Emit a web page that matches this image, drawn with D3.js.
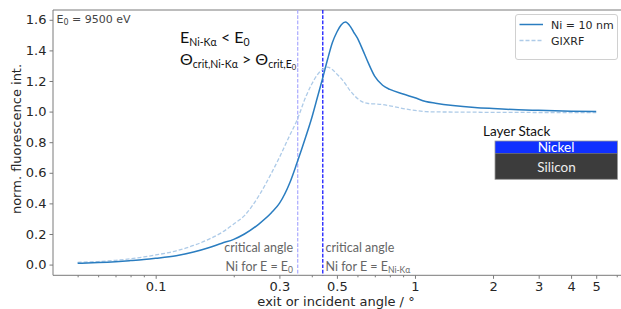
<!DOCTYPE html>
<html>
<head>
<meta charset="utf-8">
<script src="https://cdn.jsdelivr.net/npm/d3@7"></script>
<style>
  html, body { margin: 0; padding: 0; background: #fff; }
  svg { display: block; }
</style>
</head>
<body>
<script>
// ---- data ----
const angles = [0.05, 0.06, 0.07, 0.08, 0.09, 0.1, 0.12, 0.14, 0.16, 0.18, 0.2, 0.22, 0.25, 0.28, 0.3, 0.33, 0.35, 0.38, 0.4, 0.42, 0.44, 0.46, 0.48, 0.5, 0.52, 0.54, 0.56, 0.58, 0.6, 0.63, 0.66, 0.7, 0.75, 0.8, 0.9, 1.0, 1.1, 1.2, 1.4, 1.7, 2, 2.5, 3, 4, 5];
const niValues = [0.008, 0.013, 0.019, 0.026, 0.033, 0.041, 0.058, 0.082, 0.11, 0.14, 0.165, 0.2, 0.265, 0.34, 0.40, 0.54, 0.66, 0.84, 0.96, 1.09, 1.215, 1.34, 1.45, 1.52, 1.568, 1.585, 1.562, 1.52, 1.48, 1.40, 1.32, 1.23, 1.172, 1.145, 1.115, 1.09, 1.066, 1.055, 1.04, 1.027, 1.02, 1.012, 1.008, 1.003, 1.0];
const gixrfValues = [0.015, 0.02, 0.028, 0.038, 0.05, 0.063, 0.09, 0.125, 0.165, 0.21, 0.265, 0.32, 0.45, 0.6, 0.70, 0.85, 0.94, 1.10, 1.18, 1.24, 1.275, 1.29, 1.275, 1.245, 1.215, 1.18, 1.14, 1.11, 1.085, 1.062, 1.053, 1.05, 1.046, 1.038, 1.02, 1.008, 1.0, 0.998, 0.997, 0.996, 0.995, 0.995, 0.994, 0.994, 0.993];
const xMajorTicks = [0.1, 0.3, 0.5, 1, 2, 3, 4, 5];
const xTickLabels = ["0.1", "0.3", "0.5", "1", "2", "3", "4", "5"];
const xMinorTicks = [0.05, 0.06, 0.07, 0.08, 0.09, 0.2, 0.4, 0.6, 0.7, 0.8, 0.9, 6];
const yTicks = [0.0, 0.2, 0.4, 0.6, 0.8, 1.0, 1.2, 1.4, 1.6];
const critAngleE0 = 0.353;
const critAngleNiKa = 0.441;
const seriesNames = ["Ni = 10 nm", "GIXRF"];

// ---- layout ----
const W = 621, H = 309;
const L = 53, T = 10, R = 625, B = 275.3;
const svg = d3.select("body").append("svg").attr("width", W).attr("height", H);

const x = d3.scaleLog().domain([Math.pow(10, -1.396), Math.pow(10, 0.810)]).range([L, R]);
const y = d3.scaleLinear().domain([-0.07, 1.664]).range([B, T]);

const axisColor = "#7a7a7a";
const labelColor = "#262626";
const tickFont = "DejaVu Sans, sans-serif";
const annFont = "Lato, 'Open Sans', sans-serif";

// x axis (major)
const gx = svg.append("g").attr("transform", `translate(0,${B})`)
  .call(d3.axisBottom(x).tickValues(xMajorTicks).tickFormat((d, i) => xTickLabels[i]).tickSize(3.5).tickPadding(2.5));
gx.select(".domain").remove();
gx.selectAll("line").attr("stroke", axisColor);
gx.selectAll("text").attr("font-family", tickFont).attr("font-size", 13).attr("fill", labelColor);
// x minor
const gxm = svg.append("g").attr("transform", `translate(0,${B})`)
  .call(d3.axisBottom(x).tickValues(xMinorTicks).tickFormat("").tickSize(2));
gxm.select(".domain").remove();
gxm.selectAll("line").attr("stroke", axisColor);

// y axis
const gy = svg.append("g").attr("transform", `translate(${L},0)`)
  .call(d3.axisLeft(y).tickValues(yTicks).tickFormat(d3.format(".1f")).tickSize(3.5).tickPadding(3));
gy.select(".domain").remove();
gy.selectAll("line").attr("stroke", axisColor);
gy.selectAll("text").attr("font-family", tickFont).attr("font-size", 13).attr("fill", labelColor);

// spines
svg.append("line").attr("x1", L).attr("x2", R).attr("y1", B).attr("y2", B).attr("stroke", axisColor).attr("stroke-width", 1);
svg.append("line").attr("x1", L).attr("x2", R).attr("y1", T).attr("y2", T).attr("stroke", axisColor).attr("stroke-width", 1);
svg.append("line").attr("x1", L).attr("x2", L).attr("y1", T).attr("y2", B).attr("stroke", axisColor).attr("stroke-width", 1);

// axis labels
svg.append("text").attr("x", 336).attr("y", 305.5).attr("text-anchor", "middle")
  .attr("font-family", tickFont).attr("font-size", 13).attr("fill", labelColor)
  .text("exit or incident angle / °");
svg.append("text").attr("transform", "translate(21,139) rotate(-90)").attr("text-anchor", "middle")
  .attr("font-family", tickFont).attr("font-size", 13).attr("fill", labelColor)
  .text("norm. fluorescence int.");

// critical angle lines
svg.append("line").attr("x1", x(critAngleE0)).attr("x2", x(critAngleE0)).attr("y1", T).attr("y2", B)
  .attr("stroke", "#aaaaff").attr("stroke-width", 1.2).attr("stroke-dasharray", "3.7,1.6");
svg.append("line").attr("x1", x(critAngleNiKa)).attr("x2", x(critAngleNiKa)).attr("y1", T).attr("y2", B)
  .attr("stroke", "#1a1aff").attr("stroke-width", 1.3).attr("stroke-dasharray", "3.7,1.6");

// curves
const line = d3.line().x((d, i) => x(angles[i])).y(d => y(d)).curve(d3.curveMonotoneX);
svg.append("path").datum(gixrfValues).attr("d", line).attr("fill", "none")
  .attr("stroke", "#aecbe8").attr("stroke-width", 1.3).attr("stroke-dasharray", "4,2");
svg.append("path").datum(niValues).attr("d", line).attr("fill", "none")
  .attr("stroke", "#2a7dc0").attr("stroke-width", 1.5);

// E0 label
const e0 = svg.append("text").attr("x", 56.5).attr("y", 22.5).attr("font-family", tickFont).attr("font-size", 11).attr("fill", "#444");
e0.append("tspan").text("E");
e0.append("tspan").attr("font-size", 8).attr("dy", 2.5).text("0");
e0.append("tspan").attr("dy", -2.5).text(" = 9500 eV");

// annotation formulas
const a1 = svg.append("text").attr("x", 180).attr("y", 42.5).attr("font-family", annFont).attr("font-size", 16).attr("fill", "#111");
a1.append("tspan").text("E");
a1.append("tspan").attr("font-size", 10.5).attr("dy", 3).text("Ni-Kα");
a1.append("tspan").attr("dy", -3).text(" < E");
a1.append("tspan").attr("font-size", 10.5).attr("dy", 3).text("0");

const a2 = svg.append("text").attr("x", 180).attr("y", 64.5).attr("font-family", annFont).attr("font-size", 16).attr("fill", "#111");
a2.append("tspan").text("Θ");
a2.append("tspan").attr("font-size", 10.5).attr("dy", 3).text("crit,Ni-Kα");
a2.append("tspan").attr("dy", -3).text(" > Θ");
a2.append("tspan").attr("font-size", 10.5).attr("dy", 3).text("crit,E");
a2.append("tspan").attr("font-size", 7.5).attr("dy", 2).text("0");

// critical angle notes
const noteColor = "#666";
const noteSize = 12.5;
svg.append("text").attr("x", 293).attr("y", 251.5).attr("text-anchor", "end").attr("font-family", annFont).attr("font-size", noteSize).attr("fill", noteColor).text("critical angle");
const n1 = svg.append("text").attr("x", 293).attr("y", 270.5).attr("text-anchor", "end").attr("font-family", annFont).attr("font-size", noteSize).attr("fill", noteColor);
n1.append("tspan").text("Ni for E = E");
n1.append("tspan").attr("font-size", 8.5).attr("dy", 2).text("0");

svg.append("text").attr("x", 325.5).attr("y", 251.5).attr("font-family", annFont).attr("font-size", noteSize).attr("fill", noteColor).text("critical angle");
const n2 = svg.append("text").attr("x", 325.5).attr("y", 270.5).attr("font-family", annFont).attr("font-size", noteSize).attr("fill", noteColor);
n2.append("tspan").text("Ni for E = E");
n2.append("tspan").attr("font-size", 8.5).attr("dy", 2).text("Ni-Kα");

// legend
const lg = svg.append("g");
lg.append("rect").attr("x", 515.5).attr("y", 14.5).attr("width", 102).attr("height", 45).attr("rx", 2.5)
  .attr("fill", "#fff").attr("stroke", "#d0d0d0").attr("stroke-width", 1);
lg.append("line").attr("x1", 519.5).attr("x2", 543).attr("y1", 24.5).attr("y2", 24.5).attr("stroke", "#2a7dc0").attr("stroke-width", 1.5);
lg.append("line").attr("x1", 519.5).attr("x2", 543).attr("y1", 40.5).attr("y2", 40.5).attr("stroke", "#aecbe8").attr("stroke-width", 1.3).attr("stroke-dasharray", "4,2");
lg.append("text").attr("x", 551).attr("y", 28.5).attr("font-family", tickFont).attr("font-size", 11).attr("fill", labelColor).text(seriesNames[0]);
lg.append("text").attr("x", 551).attr("y", 44.5).attr("font-family", tickFont).attr("font-size", 11).attr("fill", labelColor).text(seriesNames[1]);

// layer stack
svg.append("text").attr("x", 483).attr("y", 135.5).attr("font-family", annFont).attr("font-size", 13.5).attr("fill", "#111").text("Layer Stack");
svg.append("rect").attr("x", 495).attr("y", 141).attr("width", 122.5).attr("height", 12.3).attr("fill", "#1030ff");
svg.append("rect").attr("x", 495).attr("y", 153.3).attr("width", 122.5).attr("height", 26).attr("fill", "#3c3c3c");
svg.append("rect").attr("x", 495).attr("y", 141).attr("width", 122.5).attr("height", 38.3).attr("fill", "none").attr("stroke", "#999").attr("stroke-width", 0.8);
svg.append("text").attr("x", 556).attr("y", 152).attr("text-anchor", "middle").attr("font-family", annFont).attr("font-size", 13.5).attr("fill", "#fff").text("Nickel");
svg.append("text").attr("x", 556.5).attr("y", 171.5).attr("text-anchor", "middle").attr("font-family", annFont).attr("font-size", 13.5).attr("fill", "#eee").text("Silicon");
</script>
</body>
</html>
